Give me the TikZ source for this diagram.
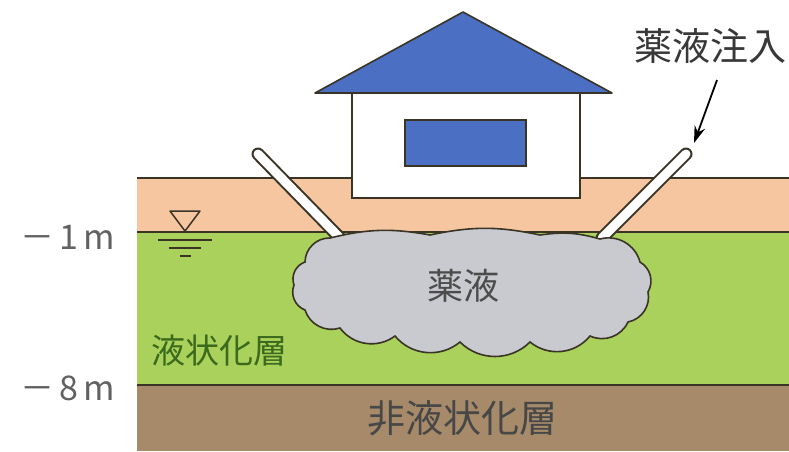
\documentclass[tikz,border=0pt]{standalone}
\usepackage{fontspec}
\setmainfont{Noto Sans CJK JP}
\usetikzlibrary{arrows.meta}

\definecolor{topsoil}{HTML}{F6C6A0}
\definecolor{liqsoil}{HTML}{A9D15B}
\definecolor{basesoil}{HTML}{A68A69}
\definecolor{roofblue}{HTML}{4A6FC3}
\definecolor{grout}{HTML}{C9CACF}
\definecolor{edge}{HTML}{3A3427}
\definecolor{liqtext}{HTML}{3B6A1C}

\begin{document}
\begin{tikzpicture}[x=1pt,y=-1pt,
   boundary/.style={edge,line width=1.8pt},
   pipe/.style={edge,line width=13pt,line cap=round},
   pipein/.style={white,line width=9pt,line cap=round},
   depth/.style={font=\fontsize{34}{34}\selectfont,text=black!62},
   txt/.style={font=\fontsize{#1}{#1}\selectfont},
   lump/.style={bend left=45}]
   \useasboundingbox (0,0) rectangle (789,451);

   % soil layers
   \fill[topsoil]  (137,178) rectangle (789,232);
   \fill[liqsoil]  (137,232) rectangle (789,385);
   \fill[basesoil] (137,385) rectangle (789,451);
   \draw[boundary] (137,178) -- (789,178);
   \draw[boundary] (137,232) -- (789,232);
   \draw[boundary] (137,385) -- (789,385);

   % injection pipes
   \coordinate (ltop) at (258,154);
   \coordinate (lbot) at (340,238);
   \coordinate (rtop) at (686,154);
   \coordinate (rbot) at (602,238);
   \draw[pipe] (ltop) -- (lbot);
   \draw[pipein] (ltop) -- (lbot);
   \draw[pipe] (rtop) -- (rbot);
   \draw[pipein] (rtop) -- (rbot);

   % grout body
   \draw[draw=edge,fill=grout,line width=1.6pt]
     (330,238) to[bend left=12] (430,235) to[bend left=12] (540,235)
     to[bend left=12] (600,239) to[lump] (640,262) to[lump] (648,292)
     to[lump] (628,322) to[lump] (590,336) to[lump] (530,342)
     to[lump] (460,342) to[lump] (395,336) to[lump] (340,328)
     to[lump] (305,310) to[lump] (294,285) to[lump] (305,262)
     to[lump] (330,238) -- cycle;
   \node[txt=36,text=black!70] (grt) at (463,286) {薬液};

   % house
   \draw[draw=edge,fill=white,line width=1.6pt] (352,93) rectangle (580,198);
   \draw[draw=edge,fill=roofblue,line width=1.6pt,line join=round]
     (315,93) -- (463,12) -- (612,93) -- cycle;
   \draw[draw=edge,fill=roofblue,line width=1.6pt] (405,120) rectangle (526,166);

   % labels
   \node[txt=38,text=black!78] (inj) at (710,46) {薬液注入};
   \coordinate (tail) at (717,80);
   \coordinate (tip) at (694,143);
   \draw[line width=1.8pt,-{Stealth[length=17pt,width=11pt]}] (tail) -- (tip);
   \node[txt=34,text=liqtext,anchor=west] (liq) at (148,351) {液状化層};
   \node[txt=38,text=black!72] (nonliq) at (462,418) {非液状化層};
   \node[depth] (d1) at (68,237) {－\hspace{5pt}1\hspace{5pt}m};
   \node[depth] (d8) at (68,388) {－\hspace{5pt}8\hspace{5pt}m};

   % groundwater level mark
   \draw[edge,line width=1.5pt,line join=round] (170,211) -- (200,211) -- (185,231) -- cycle;
   \draw[edge,line width=1.6pt] (158,240) -- (212,240);
   \draw[edge,line width=1.6pt] (169,248) -- (201,248);
   \draw[edge,line width=1.6pt] (180,256) -- (191,256);
\end{tikzpicture}
\end{document}
